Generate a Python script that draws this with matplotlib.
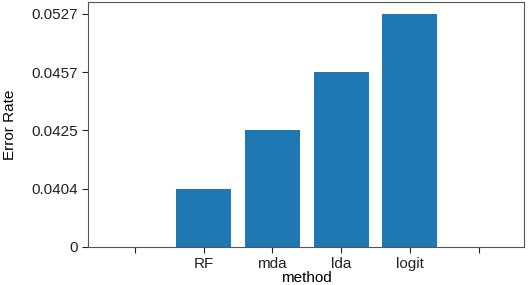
import matplotlib
matplotlib.use("Agg")
import matplotlib.pyplot as plt

plt.rcParams['font.family'] = ['Liberation Sans', 'DejaVu Sans']

# category axis: ends are blank ticks
methods = ["", "RF", "mda", "lda", "logit", ""]
bar_methods = ["RF", "mda", "lda", "logit"]
# y axis is categorical: labels shown at evenly spaced levels
rate_labels = ["0", "0.0404", "0.0425", "0.0457", "0.0527"]
bar_rates = ["0.0404", "0.0425", "0.0457", "0.0527"]

fig = plt.figure(figsize=(5.28, 2.85), dpi=100)
ax = fig.add_axes([88 / 528, 1 - 247 / 285, (524 - 88) / 528, (247 - 2) / 285])

xpos = [methods.index(m) for m in bar_methods]
ypos = [rate_labels.index(r) for r in bar_rates]
ax.bar(xpos, ypos, width=0.8, color='#1f77b4')

ax.set_xticks(range(len(methods)))
ax.set_xticklabels(methods)
ax.set_yticks(range(len(rate_labels)))
ax.set_yticklabels(rate_labels)
ax.set_xlim(-0.68, len(methods) - 1 + 0.66)
ax.set_ylim(0, len(rate_labels) - 1 + 0.2)
ax.tick_params(labelsize=11, colors='#222222', length=4)
ax.set_xlabel("method", fontsize=11, labelpad=0)
ax.set_ylabel("Error Rate", fontsize=11, labelpad=10)
for s in ax.spines.values():
    s.set_color('#555555')

fig.savefig("out.png", dpi=100)
